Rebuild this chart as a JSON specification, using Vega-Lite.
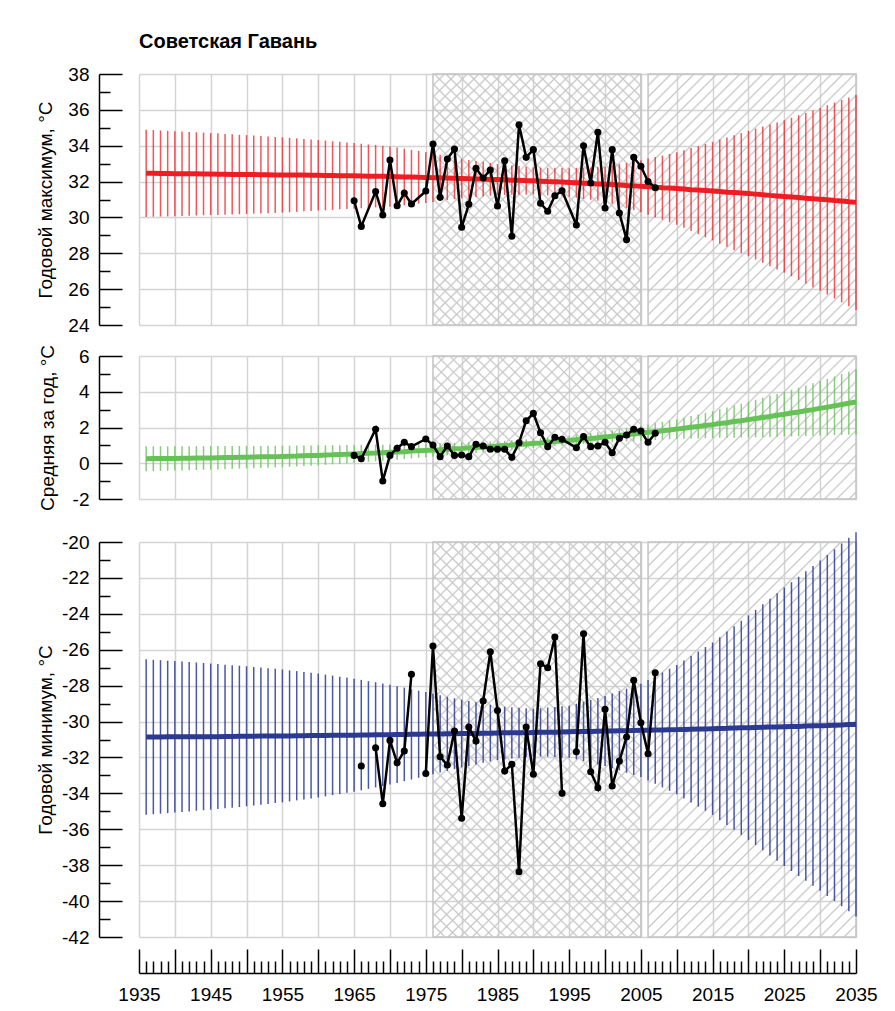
{
"$schema": "https://vega.github.io/schema/vega-lite/v6.json",
"background": "white",
"padding": {"left": 36, "top": 32, "right": 5, "bottom": 5},
"config": {
 "view": {"stroke": null},
 "font": "Liberation Sans",
 "axis": {"labelFont": "Liberation Sans", "labelFontSize": 19, "labelColor": "#000", "titleFont": "Liberation Sans", "titleFontSize": 19, "titleFontWeight": "normal", "titleColor": "#000", "gridColor": "#d4d4d4", "gridWidth": 1.5, "domainColor": "#000", "domainWidth": 1.5, "tickColor": "#000", "tickWidth": 1.5, "labelFlush": false, "labelOverlap": false, "labelBound": false, "tickCount": 500}
},
"datasets": {
"periods": [{"s": 1976, "e": 2005, "kind": "obs"}, {"s": 2006, "e": 2035, "kind": "proj"}],
"obs": [
{"yr":1965,"tmax":30.93,"tmean":0.44,"tmin":null},
{"yr":1966,"tmax":29.5,"tmean":0.25,"tmin":-32.48},
{"yr":1967,"tmax":null,"tmean":null,"tmin":null},
{"yr":1968,"tmax":31.44,"tmean":1.9,"tmin":-31.46},
{"yr":1969,"tmax":30.14,"tmean":-0.99,"tmin":-34.58},
{"yr":1970,"tmax":33.2,"tmean":0.44,"tmin":-31.05},
{"yr":1971,"tmax":30.65,"tmean":0.84,"tmin":-32.3},
{"yr":1972,"tmax":31.36,"tmean":1.17,"tmin":-31.64},
{"yr":1973,"tmax":30.75,"tmean":0.93,"tmin":-27.37},
{"yr":1974,"tmax":null,"tmean":null,"tmin":null},
{"yr":1975,"tmax":31.47,"tmean":1.36,"tmin":-32.89},
{"yr":1976,"tmax":34.1,"tmean":1.02,"tmin":-25.79},
{"yr":1977,"tmax":31.12,"tmean":0.37,"tmin":-31.96},
{"yr":1978,"tmax":33.26,"tmean":0.97,"tmin":-32.42},
{"yr":1979,"tmax":33.82,"tmean":0.44,"tmin":-30.53},
{"yr":1980,"tmax":29.45,"tmean":0.46,"tmin":-35.39},
{"yr":1981,"tmax":30.73,"tmean":0.37,"tmin":-30.31},
{"yr":1982,"tmax":32.74,"tmean":1.06,"tmin":-31.09},
{"yr":1983,"tmax":32.2,"tmean":0.97,"tmin":-28.86},
{"yr":1984,"tmax":32.65,"tmean":0.78,"tmin":-26.11},
{"yr":1985,"tmax":30.64,"tmean":0.78,"tmin":-29.38},
{"yr":1986,"tmax":33.16,"tmean":0.78,"tmin":-32.76},
{"yr":1987,"tmax":28.95,"tmean":0.33,"tmin":-32.38},
{"yr":1988,"tmax":35.17,"tmean":1.15,"tmin":-38.37},
{"yr":1989,"tmax":33.35,"tmean":2.38,"tmin":-30.31},
{"yr":1990,"tmax":33.78,"tmean":2.79,"tmin":-32.94},
{"yr":1991,"tmax":30.79,"tmean":1.71,"tmin":-26.78},
{"yr":1992,"tmax":30.34,"tmean":0.93,"tmin":-27.0},
{"yr":1993,"tmax":31.21,"tmean":1.45,"tmin":-25.29},
{"yr":1994,"tmax":31.49,"tmean":1.34,"tmin":-34.0},
{"yr":1995,"tmax":null,"tmean":null,"tmin":null},
{"yr":1996,"tmax":29.58,"tmean":0.87,"tmin":-31.68},
{"yr":1997,"tmax":34.0,"tmean":1.49,"tmin":-25.11},
{"yr":1998,"tmax":31.92,"tmean":0.93,"tmin":-32.8},
{"yr":1999,"tmax":34.75,"tmean":0.97,"tmin":-33.69},
{"yr":2000,"tmax":30.53,"tmean":1.17,"tmin":-29.32},
{"yr":2001,"tmax":33.78,"tmean":0.59,"tmin":-33.59},
{"yr":2002,"tmax":30.25,"tmean":1.40,"tmin":-32.2},
{"yr":2003,"tmax":28.76,"tmean":1.58,"tmin":-30.86},
{"yr":2004,"tmax":33.35,"tmean":1.90,"tmin":-27.7},
{"yr":2005,"tmax":32.85,"tmean":1.80,"tmin":-30.07},
{"yr":2006,"tmax":32.0,"tmean":1.17,"tmin":-31.79},
{"yr":2007,"tmax":31.66,"tmean":1.68,"tmin":-27.28}
],
"trend": [
{"yr":1936,"c1":32.46,"l1":30.03,"h1":34.89,"c2":0.25,"l2":-0.45,"h2":0.95,"c3":-30.86,"l3":-35.19,"h3":-26.53},
{"yr":1937,"c1":32.46,"l1":30.04,"h1":34.87,"c2":0.26,"l2":-0.44,"h2":0.95,"c3":-30.86,"l3":-35.16,"h3":-26.56},
{"yr":1938,"c1":32.45,"l1":30.05,"h1":34.85,"c2":0.26,"l2":-0.43,"h2":0.95,"c3":-30.86,"l3":-35.13,"h3":-26.58},
{"yr":1939,"c1":32.45,"l1":30.06,"h1":34.83,"c2":0.27,"l2":-0.42,"h2":0.95,"c3":-30.85,"l3":-35.10,"h3":-26.61},
{"yr":1940,"c1":32.44,"l1":30.07,"h1":34.81,"c2":0.27,"l2":-0.41,"h2":0.95,"c3":-30.85,"l3":-35.07,"h3":-26.63},
{"yr":1941,"c1":32.44,"l1":30.08,"h1":34.79,"c2":0.28,"l2":-0.40,"h2":0.95,"c3":-30.85,"l3":-35.04,"h3":-26.66},
{"yr":1942,"c1":32.43,"l1":30.09,"h1":34.77,"c2":0.28,"l2":-0.39,"h2":0.95,"c3":-30.85,"l3":-35.01,"h3":-26.69},
{"yr":1943,"c1":32.43,"l1":30.11,"h1":34.75,"c2":0.29,"l2":-0.38,"h2":0.96,"c3":-30.84,"l3":-34.97,"h3":-26.71},
{"yr":1944,"c1":32.42,"l1":30.12,"h1":34.73,"c2":0.29,"l2":-0.37,"h2":0.96,"c3":-30.84,"l3":-34.94,"h3":-26.74},
{"yr":1945,"c1":32.42,"l1":30.13,"h1":34.71,"c2":0.30,"l2":-0.36,"h2":0.96,"c3":-30.84,"l3":-34.91,"h3":-26.77},
{"yr":1946,"c1":32.41,"l1":30.14,"h1":34.69,"c2":0.31,"l2":-0.35,"h2":0.96,"c3":-30.84,"l3":-34.87,"h3":-26.80},
{"yr":1947,"c1":32.41,"l1":30.15,"h1":34.66,"c2":0.32,"l2":-0.33,"h2":0.96,"c3":-30.83,"l3":-34.83,"h3":-26.83},
{"yr":1948,"c1":32.40,"l1":30.17,"h1":34.64,"c2":0.32,"l2":-0.32,"h2":0.97,"c3":-30.83,"l3":-34.80,"h3":-26.86},
{"yr":1949,"c1":32.40,"l1":30.18,"h1":34.61,"c2":0.33,"l2":-0.30,"h2":0.97,"c3":-30.82,"l3":-34.76,"h3":-26.89},
{"yr":1950,"c1":32.39,"l1":30.19,"h1":34.59,"c2":0.34,"l2":-0.29,"h2":0.97,"c3":-30.82,"l3":-34.72,"h3":-26.92},
{"yr":1951,"c1":32.39,"l1":30.21,"h1":34.57,"c2":0.35,"l2":-0.28,"h2":0.97,"c3":-30.82,"l3":-34.68,"h3":-26.96},
{"yr":1952,"c1":32.38,"l1":30.22,"h1":34.54,"c2":0.36,"l2":-0.26,"h2":0.97,"c3":-30.81,"l3":-34.63,"h3":-26.99},
{"yr":1953,"c1":32.38,"l1":30.24,"h1":34.52,"c2":0.36,"l2":-0.25,"h2":0.98,"c3":-30.81,"l3":-34.59,"h3":-27.03},
{"yr":1954,"c1":32.37,"l1":30.25,"h1":34.49,"c2":0.37,"l2":-0.23,"h2":0.98,"c3":-30.80,"l3":-34.54,"h3":-27.06},
{"yr":1955,"c1":32.37,"l1":30.27,"h1":34.47,"c2":0.38,"l2":-0.22,"h2":0.98,"c3":-30.80,"l3":-34.50,"h3":-27.10},
{"yr":1956,"c1":32.37,"l1":30.29,"h1":34.44,"c2":0.39,"l2":-0.20,"h2":0.98,"c3":-30.80,"l3":-34.45,"h3":-27.15},
{"yr":1957,"c1":32.36,"l1":30.31,"h1":34.41,"c2":0.40,"l2":-0.18,"h2":0.99,"c3":-30.79,"l3":-34.39,"h3":-27.19},
{"yr":1958,"c1":32.36,"l1":30.34,"h1":34.38,"c2":0.42,"l2":-0.16,"h2":0.99,"c3":-30.79,"l3":-34.34,"h3":-27.24},
{"yr":1959,"c1":32.35,"l1":30.36,"h1":34.35,"c2":0.43,"l2":-0.14,"h2":1.00,"c3":-30.78,"l3":-34.28,"h3":-27.28},
{"yr":1960,"c1":32.35,"l1":30.38,"h1":34.32,"c2":0.44,"l2":-0.12,"h2":1.00,"c3":-30.78,"l3":-34.23,"h3":-27.33},
{"yr":1961,"c1":32.34,"l1":30.40,"h1":34.29,"c2":0.46,"l2":-0.09,"h2":1.00,"c3":-30.78,"l3":-34.17,"h3":-27.39},
{"yr":1962,"c1":32.34,"l1":30.42,"h1":34.25,"c2":0.47,"l2":-0.06,"h2":1.01,"c3":-30.77,"l3":-34.10,"h3":-27.44},
{"yr":1963,"c1":32.33,"l1":30.45,"h1":34.22,"c2":0.49,"l2":-0.04,"h2":1.01,"c3":-30.77,"l3":-34.04,"h3":-27.50},
{"yr":1964,"c1":32.33,"l1":30.47,"h1":34.18,"c2":0.50,"l2":-0.01,"h2":1.02,"c3":-30.76,"l3":-33.97,"h3":-27.55},
{"yr":1965,"c1":32.32,"l1":30.49,"h1":34.15,"c2":0.52,"l2":0.02,"h2":1.02,"c3":-30.76,"l3":-33.91,"h3":-27.61},
{"yr":1966,"c1":32.31,"l1":30.51,"h1":34.11,"c2":0.54,"l2":0.05,"h2":1.03,"c3":-30.75,"l3":-33.83,"h3":-27.68},
{"yr":1967,"c1":32.30,"l1":30.53,"h1":34.07,"c2":0.56,"l2":0.08,"h2":1.03,"c3":-30.75,"l3":-33.75,"h3":-27.75},
{"yr":1968,"c1":32.30,"l1":30.56,"h1":34.04,"c2":0.57,"l2":0.11,"h2":1.04,"c3":-30.74,"l3":-33.67,"h3":-27.81},
{"yr":1969,"c1":32.29,"l1":30.58,"h1":34.00,"c2":0.59,"l2":0.14,"h2":1.04,"c3":-30.74,"l3":-33.59,"h3":-27.88},
{"yr":1970,"c1":32.28,"l1":30.60,"h1":33.96,"c2":0.61,"l2":0.17,"h2":1.05,"c3":-30.73,"l3":-33.51,"h3":-27.95},
{"yr":1971,"c1":32.27,"l1":30.64,"h1":33.90,"c2":0.63,"l2":0.20,"h2":1.06,"c3":-30.72,"l3":-33.42,"h3":-28.03},
{"yr":1972,"c1":32.26,"l1":30.68,"h1":33.84,"c2":0.65,"l2":0.24,"h2":1.07,"c3":-30.72,"l3":-33.32,"h3":-28.11},
{"yr":1973,"c1":32.25,"l1":30.73,"h1":33.77,"c2":0.68,"l2":0.27,"h2":1.08,"c3":-30.71,"l3":-33.23,"h3":-28.20},
{"yr":1974,"c1":32.24,"l1":30.77,"h1":33.71,"c2":0.70,"l2":0.31,"h2":1.09,"c3":-30.71,"l3":-33.13,"h3":-28.28},
{"yr":1975,"c1":32.23,"l1":30.81,"h1":33.65,"c2":0.72,"l2":0.34,"h2":1.10,"c3":-30.70,"l3":-33.04,"h3":-28.36},
{"yr":1976,"c1":32.22,"l1":30.86,"h1":33.57,"c2":0.74,"l2":0.37,"h2":1.11,"c3":-30.69,"l3":-32.94,"h3":-28.45},
{"yr":1977,"c1":32.21,"l1":30.91,"h1":33.50,"c2":0.76,"l2":0.40,"h2":1.12,"c3":-30.69,"l3":-32.84,"h3":-28.53},
{"yr":1978,"c1":32.20,"l1":30.97,"h1":33.42,"c2":0.79,"l2":0.44,"h2":1.14,"c3":-30.68,"l3":-32.75,"h3":-28.62},
{"yr":1979,"c1":32.18,"l1":31.02,"h1":33.35,"c2":0.81,"l2":0.47,"h2":1.15,"c3":-30.68,"l3":-32.65,"h3":-28.70},
{"yr":1980,"c1":32.17,"l1":31.07,"h1":33.27,"c2":0.83,"l2":0.50,"h2":1.16,"c3":-30.67,"l3":-32.55,"h3":-28.79},
{"yr":1981,"c1":32.16,"l1":31.10,"h1":33.21,"c2":0.86,"l2":0.54,"h2":1.18,"c3":-30.66,"l3":-32.47,"h3":-28.86},
{"yr":1982,"c1":32.15,"l1":31.14,"h1":33.15,"c2":0.88,"l2":0.57,"h2":1.19,"c3":-30.66,"l3":-32.39,"h3":-28.93},
{"yr":1983,"c1":32.14,"l1":31.17,"h1":33.10,"c2":0.91,"l2":0.61,"h2":1.21,"c3":-30.65,"l3":-32.30,"h3":-29.00},
{"yr":1984,"c1":32.12,"l1":31.21,"h1":33.04,"c2":0.93,"l2":0.64,"h2":1.22,"c3":-30.65,"l3":-32.22,"h3":-29.07},
{"yr":1985,"c1":32.11,"l1":31.24,"h1":32.98,"c2":0.96,"l2":0.68,"h2":1.24,"c3":-30.64,"l3":-32.14,"h3":-29.14},
{"yr":1986,"c1":32.10,"l1":31.25,"h1":32.94,"c2":0.99,"l2":0.72,"h2":1.26,"c3":-30.63,"l3":-32.10,"h3":-29.17},
{"yr":1987,"c1":32.08,"l1":31.26,"h1":32.90,"c2":1.02,"l2":0.75,"h2":1.29,"c3":-30.63,"l3":-32.06,"h3":-29.20},
{"yr":1988,"c1":32.07,"l1":31.27,"h1":32.87,"c2":1.05,"l2":0.79,"h2":1.31,"c3":-30.62,"l3":-32.01,"h3":-29.23},
{"yr":1989,"c1":32.05,"l1":31.28,"h1":32.83,"c2":1.08,"l2":0.82,"h2":1.34,"c3":-30.62,"l3":-31.97,"h3":-29.26},
{"yr":1990,"c1":32.04,"l1":31.29,"h1":32.79,"c2":1.11,"l2":0.86,"h2":1.36,"c3":-30.61,"l3":-31.93,"h3":-29.29},
{"yr":1991,"c1":32.02,"l1":31.26,"h1":32.78,"c2":1.14,"l2":0.89,"h2":1.40,"c3":-30.60,"l3":-31.95,"h3":-29.26},
{"yr":1992,"c1":32.00,"l1":31.23,"h1":32.77,"c2":1.18,"l2":0.92,"h2":1.43,"c3":-30.59,"l3":-31.96,"h3":-29.22},
{"yr":1993,"c1":31.99,"l1":31.21,"h1":32.77,"c2":1.21,"l2":0.96,"h2":1.47,"c3":-30.59,"l3":-31.98,"h3":-29.19},
{"yr":1994,"c1":31.97,"l1":31.18,"h1":32.76,"c2":1.25,"l2":0.99,"h2":1.50,"c3":-30.58,"l3":-32.00,"h3":-29.15},
{"yr":1995,"c1":31.95,"l1":31.15,"h1":32.75,"c2":1.28,"l2":1.02,"h2":1.54,"c3":-30.57,"l3":-32.02,"h3":-29.12},
{"yr":1996,"c1":31.93,"l1":31.10,"h1":32.76,"c2":1.32,"l2":1.05,"h2":1.59,"c3":-30.56,"l3":-32.11,"h3":-29.01},
{"yr":1997,"c1":31.91,"l1":31.04,"h1":32.78,"c2":1.36,"l2":1.07,"h2":1.64,"c3":-30.55,"l3":-32.20,"h3":-28.90},
{"yr":1998,"c1":31.89,"l1":30.99,"h1":32.79,"c2":1.39,"l2":1.10,"h2":1.69,"c3":-30.55,"l3":-32.30,"h3":-28.80},
{"yr":1999,"c1":31.87,"l1":30.93,"h1":32.81,"c2":1.43,"l2":1.12,"h2":1.74,"c3":-30.54,"l3":-32.39,"h3":-28.69},
{"yr":2000,"c1":31.85,"l1":30.88,"h1":32.82,"c2":1.47,"l2":1.15,"h2":1.79,"c3":-30.53,"l3":-32.48,"h3":-28.58},
{"yr":2001,"c1":31.83,"l1":30.76,"h1":32.89,"c2":1.51,"l2":1.17,"h2":1.85,"c3":-30.52,"l3":-32.60,"h3":-28.44},
{"yr":2002,"c1":31.81,"l1":30.64,"h1":32.97,"c2":1.55,"l2":1.19,"h2":1.91,"c3":-30.51,"l3":-32.72,"h3":-28.30},
{"yr":2003,"c1":31.78,"l1":30.53,"h1":33.04,"c2":1.60,"l2":1.22,"h2":1.98,"c3":-30.51,"l3":-32.85,"h3":-28.17},
{"yr":2004,"c1":31.76,"l1":30.41,"h1":33.12,"c2":1.64,"l2":1.24,"h2":2.04,"c3":-30.50,"l3":-32.97,"h3":-28.03},
{"yr":2005,"c1":31.74,"l1":30.29,"h1":33.19,"c2":1.68,"l2":1.26,"h2":2.10,"c3":-30.49,"l3":-33.09,"h3":-27.89},
{"yr":2006,"c1":31.71,"l1":30.15,"h1":33.28,"c2":1.73,"l2":1.28,"h2":2.17,"c3":-30.48,"l3":-33.28,"h3":-27.68},
{"yr":2007,"c1":31.69,"l1":30.01,"h1":33.37,"c2":1.77,"l2":1.30,"h2":2.24,"c3":-30.47,"l3":-33.47,"h3":-27.47},
{"yr":2008,"c1":31.66,"l1":29.87,"h1":33.45,"c2":1.82,"l2":1.32,"h2":2.32,"c3":-30.47,"l3":-33.67,"h3":-27.27},
{"yr":2009,"c1":31.64,"l1":29.73,"h1":33.54,"c2":1.86,"l2":1.34,"h2":2.39,"c3":-30.46,"l3":-33.86,"h3":-27.06},
{"yr":2010,"c1":31.61,"l1":29.59,"h1":33.63,"c2":1.91,"l2":1.36,"h2":2.46,"c3":-30.45,"l3":-34.05,"h3":-26.85},
{"yr":2011,"c1":31.58,"l1":29.42,"h1":33.75,"c2":1.96,"l2":1.37,"h2":2.55,"c3":-30.44,"l3":-34.28,"h3":-26.60},
{"yr":2012,"c1":31.55,"l1":29.24,"h1":33.87,"c2":2.01,"l2":1.38,"h2":2.64,"c3":-30.43,"l3":-34.51,"h3":-26.35},
{"yr":2013,"c1":31.53,"l1":29.07,"h1":33.98,"c2":2.06,"l2":1.39,"h2":2.73,"c3":-30.42,"l3":-34.74,"h3":-26.10},
{"yr":2014,"c1":31.50,"l1":28.89,"h1":34.10,"c2":2.11,"l2":1.40,"h2":2.82,"c3":-30.41,"l3":-34.97,"h3":-25.85},
{"yr":2015,"c1":31.47,"l1":28.72,"h1":34.22,"c2":2.16,"l2":1.41,"h2":2.91,"c3":-30.40,"l3":-35.20,"h3":-25.60},
{"yr":2016,"c1":31.44,"l1":28.54,"h1":34.34,"c2":2.22,"l2":1.42,"h2":3.02,"c3":-30.39,"l3":-35.48,"h3":-25.30},
{"yr":2017,"c1":31.41,"l1":28.36,"h1":34.46,"c2":2.27,"l2":1.42,"h2":3.12,"c3":-30.38,"l3":-35.76,"h3":-24.99},
{"yr":2018,"c1":31.39,"l1":28.19,"h1":34.59,"c2":2.33,"l2":1.43,"h2":3.23,"c3":-30.36,"l3":-36.03,"h3":-24.69},
{"yr":2019,"c1":31.36,"l1":28.01,"h1":34.71,"c2":2.38,"l2":1.43,"h2":3.33,"c3":-30.35,"l3":-36.31,"h3":-24.39},
{"yr":2020,"c1":31.33,"l1":27.83,"h1":34.83,"c2":2.44,"l2":1.44,"h2":3.44,"c3":-30.34,"l3":-36.59,"h3":-24.09},
{"yr":2021,"c1":31.30,"l1":27.65,"h1":34.95,"c2":2.50,"l2":1.45,"h2":3.55,"c3":-30.33,"l3":-36.88,"h3":-23.78},
{"yr":2022,"c1":31.27,"l1":27.47,"h1":35.07,"c2":2.56,"l2":1.46,"h2":3.66,"c3":-30.32,"l3":-37.17,"h3":-23.47},
{"yr":2023,"c1":31.23,"l1":27.28,"h1":35.18,"c2":2.62,"l2":1.47,"h2":3.77,"c3":-30.31,"l3":-37.46,"h3":-23.16},
{"yr":2024,"c1":31.20,"l1":27.10,"h1":35.30,"c2":2.68,"l2":1.48,"h2":3.88,"c3":-30.30,"l3":-37.75,"h3":-22.85},
{"yr":2025,"c1":31.17,"l1":26.92,"h1":35.42,"c2":2.74,"l2":1.49,"h2":3.99,"c3":-30.29,"l3":-38.04,"h3":-22.54},
{"yr":2026,"c1":31.14,"l1":26.72,"h1":35.56,"c2":2.81,"l2":1.50,"h2":4.11,"c3":-30.28,"l3":-38.32,"h3":-22.24},
{"yr":2027,"c1":31.11,"l1":26.52,"h1":35.70,"c2":2.87,"l2":1.51,"h2":4.23,"c3":-30.27,"l3":-38.60,"h3":-21.94},
{"yr":2028,"c1":31.07,"l1":26.31,"h1":35.83,"c2":2.94,"l2":1.53,"h2":4.35,"c3":-30.25,"l3":-38.87,"h3":-21.63},
{"yr":2029,"c1":31.04,"l1":26.11,"h1":35.97,"c2":3.00,"l2":1.54,"h2":4.47,"c3":-30.24,"l3":-39.15,"h3":-21.33},
{"yr":2030,"c1":31.01,"l1":25.91,"h1":36.11,"c2":3.07,"l2":1.55,"h2":4.59,"c3":-30.23,"l3":-39.43,"h3":-21.03},
{"yr":2031,"c1":30.98,"l1":25.70,"h1":36.26,"c2":3.14,"l2":1.56,"h2":4.72,"c3":-30.22,"l3":-39.72,"h3":-20.72},
{"yr":2032,"c1":30.94,"l1":25.48,"h1":36.40,"c2":3.21,"l2":1.57,"h2":4.85,"c3":-30.20,"l3":-40.00,"h3":-20.40},
{"yr":2033,"c1":30.91,"l1":25.27,"h1":36.55,"c2":3.29,"l2":1.59,"h2":4.99,"c3":-30.19,"l3":-40.29,"h3":-20.09},
{"yr":2034,"c1":30.87,"l1":25.05,"h1":36.69,"c2":3.36,"l2":1.60,"h2":5.12,"c3":-30.17,"l3":-40.57,"h3":-19.77},
{"yr":2035,"c1":30.84,"l1":24.84,"h1":36.84,"c2":3.43,"l2":1.61,"h2":5.25,"c3":-30.16,"l3":-40.86,"h3":-19.46}
]
},
"spacing": 20,
"vconcat": [
{
"spacing": 9,
"vconcat": [
{
"width": 717, "height": 251,
"title": {"text": "Советская Гавань", "anchor": "start", "frame": "group", "font": "Liberation Sans", "fontSize": 20, "fontWeight": "bold", "color": "#000", "offset": 13},
"layer": [
{"data": {"name": "periods"}, "mark": {"type": "rect", "stroke": "#c4c4c4", "strokeWidth": 1.5,
 "fill": {"gradient": "linear", "x1": 0, "y1": 0, "x2": 0.8984, "y2": 1.0842, "stops": [
{"offset":0,"color":"#c8c8c8"},{"offset":0.004,"color":"rgba(200,200,200,0)"},
{"offset":0.021,"color":"rgba(200,200,200,0)"},{"offset":0.025,"color":"#c8c8c8"},{"offset":0.029,"color":"rgba(200,200,200,0)"},
{"offset":0.046,"color":"rgba(200,200,200,0)"},{"offset":0.05,"color":"#c8c8c8"},{"offset":0.054,"color":"rgba(200,200,200,0)"},
{"offset":0.071,"color":"rgba(200,200,200,0)"},{"offset":0.075,"color":"#c8c8c8"},{"offset":0.079,"color":"rgba(200,200,200,0)"},
{"offset":0.096,"color":"rgba(200,200,200,0)"},{"offset":0.1,"color":"#c8c8c8"},{"offset":0.104,"color":"rgba(200,200,200,0)"},
{"offset":0.121,"color":"rgba(200,200,200,0)"},{"offset":0.125,"color":"#c8c8c8"},{"offset":0.129,"color":"rgba(200,200,200,0)"},
{"offset":0.146,"color":"rgba(200,200,200,0)"},{"offset":0.15,"color":"#c8c8c8"},{"offset":0.154,"color":"rgba(200,200,200,0)"},
{"offset":0.171,"color":"rgba(200,200,200,0)"},{"offset":0.175,"color":"#c8c8c8"},{"offset":0.179,"color":"rgba(200,200,200,0)"},
{"offset":0.196,"color":"rgba(200,200,200,0)"},{"offset":0.2,"color":"#c8c8c8"},{"offset":0.204,"color":"rgba(200,200,200,0)"},
{"offset":0.221,"color":"rgba(200,200,200,0)"},{"offset":0.225,"color":"#c8c8c8"},{"offset":0.229,"color":"rgba(200,200,200,0)"},
{"offset":0.246,"color":"rgba(200,200,200,0)"},{"offset":0.25,"color":"#c8c8c8"},{"offset":0.254,"color":"rgba(200,200,200,0)"},
{"offset":0.271,"color":"rgba(200,200,200,0)"},{"offset":0.275,"color":"#c8c8c8"},{"offset":0.279,"color":"rgba(200,200,200,0)"},
{"offset":0.296,"color":"rgba(200,200,200,0)"},{"offset":0.3,"color":"#c8c8c8"},{"offset":0.304,"color":"rgba(200,200,200,0)"},
{"offset":0.321,"color":"rgba(200,200,200,0)"},{"offset":0.325,"color":"#c8c8c8"},{"offset":0.329,"color":"rgba(200,200,200,0)"},
{"offset":0.346,"color":"rgba(200,200,200,0)"},{"offset":0.35,"color":"#c8c8c8"},{"offset":0.354,"color":"rgba(200,200,200,0)"},
{"offset":0.371,"color":"rgba(200,200,200,0)"},{"offset":0.375,"color":"#c8c8c8"},{"offset":0.379,"color":"rgba(200,200,200,0)"},
{"offset":0.396,"color":"rgba(200,200,200,0)"},{"offset":0.4,"color":"#c8c8c8"},{"offset":0.404,"color":"rgba(200,200,200,0)"},
{"offset":0.421,"color":"rgba(200,200,200,0)"},{"offset":0.425,"color":"#c8c8c8"},{"offset":0.429,"color":"rgba(200,200,200,0)"},
{"offset":0.446,"color":"rgba(200,200,200,0)"},{"offset":0.45,"color":"#c8c8c8"},{"offset":0.454,"color":"rgba(200,200,200,0)"},
{"offset":0.471,"color":"rgba(200,200,200,0)"},{"offset":0.475,"color":"#c8c8c8"},{"offset":0.479,"color":"rgba(200,200,200,0)"},
{"offset":0.496,"color":"rgba(200,200,200,0)"},{"offset":0.5,"color":"#c8c8c8"},{"offset":0.504,"color":"rgba(200,200,200,0)"},
{"offset":0.521,"color":"rgba(200,200,200,0)"},{"offset":0.525,"color":"#c8c8c8"},{"offset":0.529,"color":"rgba(200,200,200,0)"},
{"offset":0.546,"color":"rgba(200,200,200,0)"},{"offset":0.55,"color":"#c8c8c8"},{"offset":0.554,"color":"rgba(200,200,200,0)"},
{"offset":0.571,"color":"rgba(200,200,200,0)"},{"offset":0.575,"color":"#c8c8c8"},{"offset":0.579,"color":"rgba(200,200,200,0)"},
{"offset":0.596,"color":"rgba(200,200,200,0)"},{"offset":0.6,"color":"#c8c8c8"},{"offset":0.604,"color":"rgba(200,200,200,0)"},
{"offset":0.621,"color":"rgba(200,200,200,0)"},{"offset":0.625,"color":"#c8c8c8"},{"offset":0.629,"color":"rgba(200,200,200,0)"},
{"offset":0.646,"color":"rgba(200,200,200,0)"},{"offset":0.65,"color":"#c8c8c8"},{"offset":0.654,"color":"rgba(200,200,200,0)"},
{"offset":0.671,"color":"rgba(200,200,200,0)"},{"offset":0.675,"color":"#c8c8c8"},{"offset":0.679,"color":"rgba(200,200,200,0)"},
{"offset":0.696,"color":"rgba(200,200,200,0)"},{"offset":0.7,"color":"#c8c8c8"},{"offset":0.704,"color":"rgba(200,200,200,0)"},
{"offset":0.721,"color":"rgba(200,200,200,0)"},{"offset":0.725,"color":"#c8c8c8"},{"offset":0.729,"color":"rgba(200,200,200,0)"},
{"offset":0.746,"color":"rgba(200,200,200,0)"},{"offset":0.75,"color":"#c8c8c8"},{"offset":0.754,"color":"rgba(200,200,200,0)"},
{"offset":0.771,"color":"rgba(200,200,200,0)"},{"offset":0.775,"color":"#c8c8c8"},{"offset":0.779,"color":"rgba(200,200,200,0)"},
{"offset":0.796,"color":"rgba(200,200,200,0)"},{"offset":0.8,"color":"#c8c8c8"},{"offset":0.804,"color":"rgba(200,200,200,0)"},
{"offset":0.821,"color":"rgba(200,200,200,0)"},{"offset":0.825,"color":"#c8c8c8"},{"offset":0.829,"color":"rgba(200,200,200,0)"},
{"offset":0.846,"color":"rgba(200,200,200,0)"},{"offset":0.85,"color":"#c8c8c8"},{"offset":0.854,"color":"rgba(200,200,200,0)"},
{"offset":0.871,"color":"rgba(200,200,200,0)"},{"offset":0.875,"color":"#c8c8c8"},{"offset":0.879,"color":"rgba(200,200,200,0)"},
{"offset":0.896,"color":"rgba(200,200,200,0)"},{"offset":0.9,"color":"#c8c8c8"},{"offset":0.904,"color":"rgba(200,200,200,0)"},
{"offset":0.921,"color":"rgba(200,200,200,0)"},{"offset":0.925,"color":"#c8c8c8"},{"offset":0.929,"color":"rgba(200,200,200,0)"},
{"offset":0.946,"color":"rgba(200,200,200,0)"},{"offset":0.95,"color":"#c8c8c8"},{"offset":0.954,"color":"rgba(200,200,200,0)"},
{"offset":0.971,"color":"rgba(200,200,200,0)"},{"offset":0.975,"color":"#c8c8c8"},{"offset":0.979,"color":"rgba(200,200,200,0)"},
{"offset":0.996,"color":"rgba(200,200,200,0)"},{"offset":1,"color":"#c8c8c8"}]}},
 "encoding": {
  "x": {"field": "s", "type": "quantitative", "scale": {"domain": [1935, 2035], "nice": false, "zero": false}, "title": null,
        "axis": {"values": [1935,1940,1945,1950,1955,1960,1965,1970,1975,1980,1985,1990,1995,2000,2005,2010,2015,2020,2025,2030,2035], "grid": true, "ticks": false, "labels": false, "domain": false, "title": null}},
  "x2": {"field": "e"},
  "y": {"datum": 38, "type": "quantitative", "scale": {"domain": [24, 38], "nice": false, "zero": false},
        "axis": {"orient": "left", "offset": 40, "values": [24,25,26,27,28,29,30,31,32,33,34,35,36,37,38],
          "tickSize": {"condition": {"test": "datum.value % 2 === 0", "value": -23}, "value": -11},
          "labelExpr": "datum.value % 2 === 0 ? '' + datum.value : ''", "labelPadding": 33,
          "grid": true, "gridOpacity": {"condition": {"test": "datum.value % 2 === 0", "value": 1}, "value": 0},
          "title": "Годовой максимум, °C", "titlePadding": 12}},
  "y2": {"datum": 24}
 }},
{"data": {"name": "periods"}, "transform": [{"filter": "datum.kind === 'obs'"}], "mark": {"type": "rect", "strokeWidth": 0,
 "fill": {"gradient": "linear", "x1": 0, "y1": 1, "x2": 0.8984, "y2": -0.0842, "stops": [
{"offset":0,"color":"#c8c8c8"},{"offset":0.004,"color":"rgba(200,200,200,0)"},
{"offset":0.021,"color":"rgba(200,200,200,0)"},{"offset":0.025,"color":"#c8c8c8"},{"offset":0.029,"color":"rgba(200,200,200,0)"},
{"offset":0.046,"color":"rgba(200,200,200,0)"},{"offset":0.05,"color":"#c8c8c8"},{"offset":0.054,"color":"rgba(200,200,200,0)"},
{"offset":0.071,"color":"rgba(200,200,200,0)"},{"offset":0.075,"color":"#c8c8c8"},{"offset":0.079,"color":"rgba(200,200,200,0)"},
{"offset":0.096,"color":"rgba(200,200,200,0)"},{"offset":0.1,"color":"#c8c8c8"},{"offset":0.104,"color":"rgba(200,200,200,0)"},
{"offset":0.121,"color":"rgba(200,200,200,0)"},{"offset":0.125,"color":"#c8c8c8"},{"offset":0.129,"color":"rgba(200,200,200,0)"},
{"offset":0.146,"color":"rgba(200,200,200,0)"},{"offset":0.15,"color":"#c8c8c8"},{"offset":0.154,"color":"rgba(200,200,200,0)"},
{"offset":0.171,"color":"rgba(200,200,200,0)"},{"offset":0.175,"color":"#c8c8c8"},{"offset":0.179,"color":"rgba(200,200,200,0)"},
{"offset":0.196,"color":"rgba(200,200,200,0)"},{"offset":0.2,"color":"#c8c8c8"},{"offset":0.204,"color":"rgba(200,200,200,0)"},
{"offset":0.221,"color":"rgba(200,200,200,0)"},{"offset":0.225,"color":"#c8c8c8"},{"offset":0.229,"color":"rgba(200,200,200,0)"},
{"offset":0.246,"color":"rgba(200,200,200,0)"},{"offset":0.25,"color":"#c8c8c8"},{"offset":0.254,"color":"rgba(200,200,200,0)"},
{"offset":0.271,"color":"rgba(200,200,200,0)"},{"offset":0.275,"color":"#c8c8c8"},{"offset":0.279,"color":"rgba(200,200,200,0)"},
{"offset":0.296,"color":"rgba(200,200,200,0)"},{"offset":0.3,"color":"#c8c8c8"},{"offset":0.304,"color":"rgba(200,200,200,0)"},
{"offset":0.321,"color":"rgba(200,200,200,0)"},{"offset":0.325,"color":"#c8c8c8"},{"offset":0.329,"color":"rgba(200,200,200,0)"},
{"offset":0.346,"color":"rgba(200,200,200,0)"},{"offset":0.35,"color":"#c8c8c8"},{"offset":0.354,"color":"rgba(200,200,200,0)"},
{"offset":0.371,"color":"rgba(200,200,200,0)"},{"offset":0.375,"color":"#c8c8c8"},{"offset":0.379,"color":"rgba(200,200,200,0)"},
{"offset":0.396,"color":"rgba(200,200,200,0)"},{"offset":0.4,"color":"#c8c8c8"},{"offset":0.404,"color":"rgba(200,200,200,0)"},
{"offset":0.421,"color":"rgba(200,200,200,0)"},{"offset":0.425,"color":"#c8c8c8"},{"offset":0.429,"color":"rgba(200,200,200,0)"},
{"offset":0.446,"color":"rgba(200,200,200,0)"},{"offset":0.45,"color":"#c8c8c8"},{"offset":0.454,"color":"rgba(200,200,200,0)"},
{"offset":0.471,"color":"rgba(200,200,200,0)"},{"offset":0.475,"color":"#c8c8c8"},{"offset":0.479,"color":"rgba(200,200,200,0)"},
{"offset":0.496,"color":"rgba(200,200,200,0)"},{"offset":0.5,"color":"#c8c8c8"},{"offset":0.504,"color":"rgba(200,200,200,0)"},
{"offset":0.521,"color":"rgba(200,200,200,0)"},{"offset":0.525,"color":"#c8c8c8"},{"offset":0.529,"color":"rgba(200,200,200,0)"},
{"offset":0.546,"color":"rgba(200,200,200,0)"},{"offset":0.55,"color":"#c8c8c8"},{"offset":0.554,"color":"rgba(200,200,200,0)"},
{"offset":0.571,"color":"rgba(200,200,200,0)"},{"offset":0.575,"color":"#c8c8c8"},{"offset":0.579,"color":"rgba(200,200,200,0)"},
{"offset":0.596,"color":"rgba(200,200,200,0)"},{"offset":0.6,"color":"#c8c8c8"},{"offset":0.604,"color":"rgba(200,200,200,0)"},
{"offset":0.621,"color":"rgba(200,200,200,0)"},{"offset":0.625,"color":"#c8c8c8"},{"offset":0.629,"color":"rgba(200,200,200,0)"},
{"offset":0.646,"color":"rgba(200,200,200,0)"},{"offset":0.65,"color":"#c8c8c8"},{"offset":0.654,"color":"rgba(200,200,200,0)"},
{"offset":0.671,"color":"rgba(200,200,200,0)"},{"offset":0.675,"color":"#c8c8c8"},{"offset":0.679,"color":"rgba(200,200,200,0)"},
{"offset":0.696,"color":"rgba(200,200,200,0)"},{"offset":0.7,"color":"#c8c8c8"},{"offset":0.704,"color":"rgba(200,200,200,0)"},
{"offset":0.721,"color":"rgba(200,200,200,0)"},{"offset":0.725,"color":"#c8c8c8"},{"offset":0.729,"color":"rgba(200,200,200,0)"},
{"offset":0.746,"color":"rgba(200,200,200,0)"},{"offset":0.75,"color":"#c8c8c8"},{"offset":0.754,"color":"rgba(200,200,200,0)"},
{"offset":0.771,"color":"rgba(200,200,200,0)"},{"offset":0.775,"color":"#c8c8c8"},{"offset":0.779,"color":"rgba(200,200,200,0)"},
{"offset":0.796,"color":"rgba(200,200,200,0)"},{"offset":0.8,"color":"#c8c8c8"},{"offset":0.804,"color":"rgba(200,200,200,0)"},
{"offset":0.821,"color":"rgba(200,200,200,0)"},{"offset":0.825,"color":"#c8c8c8"},{"offset":0.829,"color":"rgba(200,200,200,0)"},
{"offset":0.846,"color":"rgba(200,200,200,0)"},{"offset":0.85,"color":"#c8c8c8"},{"offset":0.854,"color":"rgba(200,200,200,0)"},
{"offset":0.871,"color":"rgba(200,200,200,0)"},{"offset":0.875,"color":"#c8c8c8"},{"offset":0.879,"color":"rgba(200,200,200,0)"},
{"offset":0.896,"color":"rgba(200,200,200,0)"},{"offset":0.9,"color":"#c8c8c8"},{"offset":0.904,"color":"rgba(200,200,200,0)"},
{"offset":0.921,"color":"rgba(200,200,200,0)"},{"offset":0.925,"color":"#c8c8c8"},{"offset":0.929,"color":"rgba(200,200,200,0)"},
{"offset":0.946,"color":"rgba(200,200,200,0)"},{"offset":0.95,"color":"#c8c8c8"},{"offset":0.954,"color":"rgba(200,200,200,0)"},
{"offset":0.971,"color":"rgba(200,200,200,0)"},{"offset":0.975,"color":"#c8c8c8"},{"offset":0.979,"color":"rgba(200,200,200,0)"},
{"offset":0.996,"color":"rgba(200,200,200,0)"},{"offset":1,"color":"#c8c8c8"}]}},
 "encoding": {"x": {"field": "s", "type": "quantitative", "title": null}, "x2": {"field": "e"}, "y": {"datum": 38, "type": "quantitative"}, "y2": {"datum": 24}}},
{"data": {"name": "trend"}, "mark": {"type": "rule", "color": "#ee1d23", "strokeWidth": 1.5, "opacity": 0.75},
 "encoding": {"x": {"field": "yr", "type": "quantitative", "title": null}, "y": {"field": "l1", "type": "quantitative", "title": "Годовой максимум, °C"}, "y2": {"field": "h1"}}},
{"data": {"name": "trend"}, "mark": {"type": "line", "color": "#ee1d23", "strokeWidth": 5},
 "encoding": {"x": {"field": "yr", "type": "quantitative", "title": null}, "y": {"field": "c1", "type": "quantitative", "title": "Годовой максимум, °C"}}},
{"data": {"name": "obs"}, "transform": [{"filter": "isValid(datum.tmax)"}], "mark": {"type": "line", "color": "#000", "strokeWidth": 2.5},
 "encoding": {"x": {"field": "yr", "type": "quantitative", "title": null}, "y": {"field": "tmax", "type": "quantitative", "title": "Годовой максимум, °C"}}},
{"data": {"name": "obs"}, "transform": [{"filter": "isValid(datum.tmax)"}], "mark": {"type": "point", "filled": true, "color": "#000", "size": 50, "opacity": 1},
 "encoding": {"x": {"field": "yr", "type": "quantitative", "title": null}, "y": {"field": "tmax", "type": "quantitative", "title": "Годовой максимум, °C"}}}
]
},
{
"width": 717, "height": 143,
"layer": [
{"data": {"name": "periods"}, "mark": {"type": "rect", "stroke": "#c4c4c4", "strokeWidth": 1.5,
 "fill": {"gradient": "linear", "x1": 0, "y1": 0, "x2": 1.1459, "y2": 0.7878, "stops": [
{"offset":0,"color":"#c8c8c8"},{"offset":0.005,"color":"rgba(200,200,200,0)"},
{"offset":0.03,"color":"rgba(200,200,200,0)"},{"offset":0.035,"color":"#c8c8c8"},{"offset":0.04,"color":"rgba(200,200,200,0)"},
{"offset":0.065,"color":"rgba(200,200,200,0)"},{"offset":0.07,"color":"#c8c8c8"},{"offset":0.075,"color":"rgba(200,200,200,0)"},
{"offset":0.1,"color":"rgba(200,200,200,0)"},{"offset":0.105,"color":"#c8c8c8"},{"offset":0.11,"color":"rgba(200,200,200,0)"},
{"offset":0.135,"color":"rgba(200,200,200,0)"},{"offset":0.14,"color":"#c8c8c8"},{"offset":0.145,"color":"rgba(200,200,200,0)"},
{"offset":0.17,"color":"rgba(200,200,200,0)"},{"offset":0.175,"color":"#c8c8c8"},{"offset":0.18,"color":"rgba(200,200,200,0)"},
{"offset":0.205,"color":"rgba(200,200,200,0)"},{"offset":0.21,"color":"#c8c8c8"},{"offset":0.215,"color":"rgba(200,200,200,0)"},
{"offset":0.24,"color":"rgba(200,200,200,0)"},{"offset":0.245,"color":"#c8c8c8"},{"offset":0.25,"color":"rgba(200,200,200,0)"},
{"offset":0.275,"color":"rgba(200,200,200,0)"},{"offset":0.28,"color":"#c8c8c8"},{"offset":0.285,"color":"rgba(200,200,200,0)"},
{"offset":0.31,"color":"rgba(200,200,200,0)"},{"offset":0.315,"color":"#c8c8c8"},{"offset":0.32,"color":"rgba(200,200,200,0)"},
{"offset":0.345,"color":"rgba(200,200,200,0)"},{"offset":0.35,"color":"#c8c8c8"},{"offset":0.355,"color":"rgba(200,200,200,0)"},
{"offset":0.38,"color":"rgba(200,200,200,0)"},{"offset":0.385,"color":"#c8c8c8"},{"offset":0.39,"color":"rgba(200,200,200,0)"},
{"offset":0.415,"color":"rgba(200,200,200,0)"},{"offset":0.42,"color":"#c8c8c8"},{"offset":0.425,"color":"rgba(200,200,200,0)"},
{"offset":0.45,"color":"rgba(200,200,200,0)"},{"offset":0.455,"color":"#c8c8c8"},{"offset":0.46,"color":"rgba(200,200,200,0)"},
{"offset":0.485,"color":"rgba(200,200,200,0)"},{"offset":0.49,"color":"#c8c8c8"},{"offset":0.495,"color":"rgba(200,200,200,0)"},
{"offset":0.52,"color":"rgba(200,200,200,0)"},{"offset":0.525,"color":"#c8c8c8"},{"offset":0.53,"color":"rgba(200,200,200,0)"},
{"offset":0.555,"color":"rgba(200,200,200,0)"},{"offset":0.56,"color":"#c8c8c8"},{"offset":0.565,"color":"rgba(200,200,200,0)"},
{"offset":0.59,"color":"rgba(200,200,200,0)"},{"offset":0.595,"color":"#c8c8c8"},{"offset":0.6,"color":"rgba(200,200,200,0)"},
{"offset":0.625,"color":"rgba(200,200,200,0)"},{"offset":0.63,"color":"#c8c8c8"},{"offset":0.635,"color":"rgba(200,200,200,0)"},
{"offset":0.66,"color":"rgba(200,200,200,0)"},{"offset":0.665,"color":"#c8c8c8"},{"offset":0.67,"color":"rgba(200,200,200,0)"},
{"offset":0.695,"color":"rgba(200,200,200,0)"},{"offset":0.7,"color":"#c8c8c8"},{"offset":0.705,"color":"rgba(200,200,200,0)"},
{"offset":0.73,"color":"rgba(200,200,200,0)"},{"offset":0.735,"color":"#c8c8c8"},{"offset":0.74,"color":"rgba(200,200,200,0)"},
{"offset":0.765,"color":"rgba(200,200,200,0)"},{"offset":0.77,"color":"#c8c8c8"},{"offset":0.775,"color":"rgba(200,200,200,0)"},
{"offset":0.8,"color":"rgba(200,200,200,0)"},{"offset":0.805,"color":"#c8c8c8"},{"offset":0.81,"color":"rgba(200,200,200,0)"},
{"offset":0.835,"color":"rgba(200,200,200,0)"},{"offset":0.84,"color":"#c8c8c8"},{"offset":0.845,"color":"rgba(200,200,200,0)"},
{"offset":0.87,"color":"rgba(200,200,200,0)"},{"offset":0.875,"color":"#c8c8c8"},{"offset":0.88,"color":"rgba(200,200,200,0)"},
{"offset":0.905,"color":"rgba(200,200,200,0)"},{"offset":0.91,"color":"#c8c8c8"},{"offset":0.915,"color":"rgba(200,200,200,0)"},
{"offset":0.94,"color":"rgba(200,200,200,0)"},{"offset":0.945,"color":"#c8c8c8"},{"offset":0.95,"color":"rgba(200,200,200,0)"},
{"offset":0.975,"color":"rgba(200,200,200,0)"},{"offset":0.98,"color":"#c8c8c8"},{"offset":0.985,"color":"rgba(200,200,200,0)"}]}},
 "encoding": {
  "x": {"field": "s", "type": "quantitative", "scale": {"domain": [1935, 2035], "nice": false, "zero": false}, "title": null,
        "axis": {"values": [1935,1940,1945,1950,1955,1960,1965,1970,1975,1980,1985,1990,1995,2000,2005,2010,2015,2020,2025,2030,2035], "grid": true, "ticks": false, "labels": false, "domain": false, "title": null}},
  "x2": {"field": "e"},
  "y": {"datum": 6, "type": "quantitative", "scale": {"domain": [-2, 6], "nice": false, "zero": false},
        "axis": {"orient": "left", "offset": 40, "values": [-2,-1,0,1,2,3,4,5,6],
          "tickSize": {"condition": {"test": "datum.value % 2 === 0", "value": -23}, "value": -11},
          "labelExpr": "datum.value % 2 === 0 ? '' + datum.value : ''", "labelPadding": 33,
          "grid": true, "gridOpacity": {"condition": {"test": "datum.value % 2 === 0", "value": 1}, "value": 0},
          "title": "Средняя за год, °C", "titlePadding": 15}},
  "y2": {"datum": -2}
 }},
{"data": {"name": "periods"}, "transform": [{"filter": "datum.kind === 'obs'"}], "mark": {"type": "rect", "strokeWidth": 0,
 "fill": {"gradient": "linear", "x1": 0, "y1": 1, "x2": 1.1459, "y2": 0.2122, "stops": [
{"offset":0,"color":"#c8c8c8"},{"offset":0.005,"color":"rgba(200,200,200,0)"},
{"offset":0.03,"color":"rgba(200,200,200,0)"},{"offset":0.035,"color":"#c8c8c8"},{"offset":0.04,"color":"rgba(200,200,200,0)"},
{"offset":0.065,"color":"rgba(200,200,200,0)"},{"offset":0.07,"color":"#c8c8c8"},{"offset":0.075,"color":"rgba(200,200,200,0)"},
{"offset":0.1,"color":"rgba(200,200,200,0)"},{"offset":0.105,"color":"#c8c8c8"},{"offset":0.11,"color":"rgba(200,200,200,0)"},
{"offset":0.135,"color":"rgba(200,200,200,0)"},{"offset":0.14,"color":"#c8c8c8"},{"offset":0.145,"color":"rgba(200,200,200,0)"},
{"offset":0.17,"color":"rgba(200,200,200,0)"},{"offset":0.175,"color":"#c8c8c8"},{"offset":0.18,"color":"rgba(200,200,200,0)"},
{"offset":0.205,"color":"rgba(200,200,200,0)"},{"offset":0.21,"color":"#c8c8c8"},{"offset":0.215,"color":"rgba(200,200,200,0)"},
{"offset":0.24,"color":"rgba(200,200,200,0)"},{"offset":0.245,"color":"#c8c8c8"},{"offset":0.25,"color":"rgba(200,200,200,0)"},
{"offset":0.275,"color":"rgba(200,200,200,0)"},{"offset":0.28,"color":"#c8c8c8"},{"offset":0.285,"color":"rgba(200,200,200,0)"},
{"offset":0.31,"color":"rgba(200,200,200,0)"},{"offset":0.315,"color":"#c8c8c8"},{"offset":0.32,"color":"rgba(200,200,200,0)"},
{"offset":0.345,"color":"rgba(200,200,200,0)"},{"offset":0.35,"color":"#c8c8c8"},{"offset":0.355,"color":"rgba(200,200,200,0)"},
{"offset":0.38,"color":"rgba(200,200,200,0)"},{"offset":0.385,"color":"#c8c8c8"},{"offset":0.39,"color":"rgba(200,200,200,0)"},
{"offset":0.415,"color":"rgba(200,200,200,0)"},{"offset":0.42,"color":"#c8c8c8"},{"offset":0.425,"color":"rgba(200,200,200,0)"},
{"offset":0.45,"color":"rgba(200,200,200,0)"},{"offset":0.455,"color":"#c8c8c8"},{"offset":0.46,"color":"rgba(200,200,200,0)"},
{"offset":0.485,"color":"rgba(200,200,200,0)"},{"offset":0.49,"color":"#c8c8c8"},{"offset":0.495,"color":"rgba(200,200,200,0)"},
{"offset":0.52,"color":"rgba(200,200,200,0)"},{"offset":0.525,"color":"#c8c8c8"},{"offset":0.53,"color":"rgba(200,200,200,0)"},
{"offset":0.555,"color":"rgba(200,200,200,0)"},{"offset":0.56,"color":"#c8c8c8"},{"offset":0.565,"color":"rgba(200,200,200,0)"},
{"offset":0.59,"color":"rgba(200,200,200,0)"},{"offset":0.595,"color":"#c8c8c8"},{"offset":0.6,"color":"rgba(200,200,200,0)"},
{"offset":0.625,"color":"rgba(200,200,200,0)"},{"offset":0.63,"color":"#c8c8c8"},{"offset":0.635,"color":"rgba(200,200,200,0)"},
{"offset":0.66,"color":"rgba(200,200,200,0)"},{"offset":0.665,"color":"#c8c8c8"},{"offset":0.67,"color":"rgba(200,200,200,0)"},
{"offset":0.695,"color":"rgba(200,200,200,0)"},{"offset":0.7,"color":"#c8c8c8"},{"offset":0.705,"color":"rgba(200,200,200,0)"},
{"offset":0.73,"color":"rgba(200,200,200,0)"},{"offset":0.735,"color":"#c8c8c8"},{"offset":0.74,"color":"rgba(200,200,200,0)"},
{"offset":0.765,"color":"rgba(200,200,200,0)"},{"offset":0.77,"color":"#c8c8c8"},{"offset":0.775,"color":"rgba(200,200,200,0)"},
{"offset":0.8,"color":"rgba(200,200,200,0)"},{"offset":0.805,"color":"#c8c8c8"},{"offset":0.81,"color":"rgba(200,200,200,0)"},
{"offset":0.835,"color":"rgba(200,200,200,0)"},{"offset":0.84,"color":"#c8c8c8"},{"offset":0.845,"color":"rgba(200,200,200,0)"},
{"offset":0.87,"color":"rgba(200,200,200,0)"},{"offset":0.875,"color":"#c8c8c8"},{"offset":0.88,"color":"rgba(200,200,200,0)"},
{"offset":0.905,"color":"rgba(200,200,200,0)"},{"offset":0.91,"color":"#c8c8c8"},{"offset":0.915,"color":"rgba(200,200,200,0)"},
{"offset":0.94,"color":"rgba(200,200,200,0)"},{"offset":0.945,"color":"#c8c8c8"},{"offset":0.95,"color":"rgba(200,200,200,0)"},
{"offset":0.975,"color":"rgba(200,200,200,0)"},{"offset":0.98,"color":"#c8c8c8"},{"offset":0.985,"color":"rgba(200,200,200,0)"}]}},
 "encoding": {"x": {"field": "s", "type": "quantitative", "title": null}, "x2": {"field": "e"}, "y": {"datum": 6, "type": "quantitative"}, "y2": {"datum": -2}}},
{"data": {"name": "trend"}, "mark": {"type": "rule", "color": "#6cc25c", "strokeWidth": 1.5, "opacity": 0.8},
 "encoding": {"x": {"field": "yr", "type": "quantitative", "title": null}, "y": {"field": "l2", "type": "quantitative", "title": "Средняя за год, °C"}, "y2": {"field": "h2"}}},
{"data": {"name": "trend"}, "mark": {"type": "line", "color": "#66c157", "strokeWidth": 5},
 "encoding": {"x": {"field": "yr", "type": "quantitative", "title": null}, "y": {"field": "c2", "type": "quantitative", "title": "Средняя за год, °C"}}},
{"data": {"name": "obs"}, "transform": [{"filter": "isValid(datum.tmean)"}], "mark": {"type": "line", "color": "#000", "strokeWidth": 2.5},
 "encoding": {"x": {"field": "yr", "type": "quantitative", "title": null}, "y": {"field": "tmean", "type": "quantitative", "title": "Средняя за год, °C"}}},
{"data": {"name": "obs"}, "transform": [{"filter": "isValid(datum.tmean)"}], "mark": {"type": "point", "filled": true, "color": "#000", "size": 50, "opacity": 1},
 "encoding": {"x": {"field": "yr", "type": "quantitative", "title": null}, "y": {"field": "tmean", "type": "quantitative", "title": "Средняя за год, °C"}}}
]
}
]
},
{
"width": 717, "height": 395,
"layer": [
{"data": {"name": "periods"}, "mark": {"type": "rect", "stroke": "#c4c4c4", "strokeWidth": 1.5,
 "fill": {"gradient": "linear", "x1": 0, "y1": 0, "x2": 0.6294, "y2": 1.1952, "stops": [
{"offset":0,"color":"#c8c8c8"},{"offset":0.003,"color":"rgba(200,200,200,0)"},
{"offset":0.017,"color":"rgba(200,200,200,0)"},{"offset":0.02,"color":"#c8c8c8"},{"offset":0.023,"color":"rgba(200,200,200,0)"},
{"offset":0.037,"color":"rgba(200,200,200,0)"},{"offset":0.04,"color":"#c8c8c8"},{"offset":0.043,"color":"rgba(200,200,200,0)"},
{"offset":0.057,"color":"rgba(200,200,200,0)"},{"offset":0.06,"color":"#c8c8c8"},{"offset":0.063,"color":"rgba(200,200,200,0)"},
{"offset":0.077,"color":"rgba(200,200,200,0)"},{"offset":0.08,"color":"#c8c8c8"},{"offset":0.083,"color":"rgba(200,200,200,0)"},
{"offset":0.097,"color":"rgba(200,200,200,0)"},{"offset":0.1,"color":"#c8c8c8"},{"offset":0.103,"color":"rgba(200,200,200,0)"},
{"offset":0.117,"color":"rgba(200,200,200,0)"},{"offset":0.12,"color":"#c8c8c8"},{"offset":0.123,"color":"rgba(200,200,200,0)"},
{"offset":0.137,"color":"rgba(200,200,200,0)"},{"offset":0.14,"color":"#c8c8c8"},{"offset":0.143,"color":"rgba(200,200,200,0)"},
{"offset":0.157,"color":"rgba(200,200,200,0)"},{"offset":0.16,"color":"#c8c8c8"},{"offset":0.163,"color":"rgba(200,200,200,0)"},
{"offset":0.177,"color":"rgba(200,200,200,0)"},{"offset":0.18,"color":"#c8c8c8"},{"offset":0.183,"color":"rgba(200,200,200,0)"},
{"offset":0.197,"color":"rgba(200,200,200,0)"},{"offset":0.2,"color":"#c8c8c8"},{"offset":0.203,"color":"rgba(200,200,200,0)"},
{"offset":0.217,"color":"rgba(200,200,200,0)"},{"offset":0.22,"color":"#c8c8c8"},{"offset":0.223,"color":"rgba(200,200,200,0)"},
{"offset":0.237,"color":"rgba(200,200,200,0)"},{"offset":0.24,"color":"#c8c8c8"},{"offset":0.243,"color":"rgba(200,200,200,0)"},
{"offset":0.257,"color":"rgba(200,200,200,0)"},{"offset":0.26,"color":"#c8c8c8"},{"offset":0.263,"color":"rgba(200,200,200,0)"},
{"offset":0.277,"color":"rgba(200,200,200,0)"},{"offset":0.28,"color":"#c8c8c8"},{"offset":0.283,"color":"rgba(200,200,200,0)"},
{"offset":0.297,"color":"rgba(200,200,200,0)"},{"offset":0.3,"color":"#c8c8c8"},{"offset":0.303,"color":"rgba(200,200,200,0)"},
{"offset":0.317,"color":"rgba(200,200,200,0)"},{"offset":0.32,"color":"#c8c8c8"},{"offset":0.323,"color":"rgba(200,200,200,0)"},
{"offset":0.337,"color":"rgba(200,200,200,0)"},{"offset":0.34,"color":"#c8c8c8"},{"offset":0.343,"color":"rgba(200,200,200,0)"},
{"offset":0.357,"color":"rgba(200,200,200,0)"},{"offset":0.36,"color":"#c8c8c8"},{"offset":0.363,"color":"rgba(200,200,200,0)"},
{"offset":0.377,"color":"rgba(200,200,200,0)"},{"offset":0.38,"color":"#c8c8c8"},{"offset":0.383,"color":"rgba(200,200,200,0)"},
{"offset":0.397,"color":"rgba(200,200,200,0)"},{"offset":0.4,"color":"#c8c8c8"},{"offset":0.403,"color":"rgba(200,200,200,0)"},
{"offset":0.417,"color":"rgba(200,200,200,0)"},{"offset":0.42,"color":"#c8c8c8"},{"offset":0.423,"color":"rgba(200,200,200,0)"},
{"offset":0.437,"color":"rgba(200,200,200,0)"},{"offset":0.44,"color":"#c8c8c8"},{"offset":0.443,"color":"rgba(200,200,200,0)"},
{"offset":0.457,"color":"rgba(200,200,200,0)"},{"offset":0.46,"color":"#c8c8c8"},{"offset":0.463,"color":"rgba(200,200,200,0)"},
{"offset":0.477,"color":"rgba(200,200,200,0)"},{"offset":0.48,"color":"#c8c8c8"},{"offset":0.483,"color":"rgba(200,200,200,0)"},
{"offset":0.497,"color":"rgba(200,200,200,0)"},{"offset":0.5,"color":"#c8c8c8"},{"offset":0.503,"color":"rgba(200,200,200,0)"},
{"offset":0.517,"color":"rgba(200,200,200,0)"},{"offset":0.52,"color":"#c8c8c8"},{"offset":0.523,"color":"rgba(200,200,200,0)"},
{"offset":0.537,"color":"rgba(200,200,200,0)"},{"offset":0.54,"color":"#c8c8c8"},{"offset":0.543,"color":"rgba(200,200,200,0)"},
{"offset":0.557,"color":"rgba(200,200,200,0)"},{"offset":0.56,"color":"#c8c8c8"},{"offset":0.563,"color":"rgba(200,200,200,0)"},
{"offset":0.577,"color":"rgba(200,200,200,0)"},{"offset":0.58,"color":"#c8c8c8"},{"offset":0.583,"color":"rgba(200,200,200,0)"},
{"offset":0.597,"color":"rgba(200,200,200,0)"},{"offset":0.6,"color":"#c8c8c8"},{"offset":0.603,"color":"rgba(200,200,200,0)"},
{"offset":0.617,"color":"rgba(200,200,200,0)"},{"offset":0.62,"color":"#c8c8c8"},{"offset":0.623,"color":"rgba(200,200,200,0)"},
{"offset":0.637,"color":"rgba(200,200,200,0)"},{"offset":0.64,"color":"#c8c8c8"},{"offset":0.643,"color":"rgba(200,200,200,0)"},
{"offset":0.657,"color":"rgba(200,200,200,0)"},{"offset":0.66,"color":"#c8c8c8"},{"offset":0.663,"color":"rgba(200,200,200,0)"},
{"offset":0.677,"color":"rgba(200,200,200,0)"},{"offset":0.68,"color":"#c8c8c8"},{"offset":0.683,"color":"rgba(200,200,200,0)"},
{"offset":0.697,"color":"rgba(200,200,200,0)"},{"offset":0.7,"color":"#c8c8c8"},{"offset":0.703,"color":"rgba(200,200,200,0)"},
{"offset":0.717,"color":"rgba(200,200,200,0)"},{"offset":0.72,"color":"#c8c8c8"},{"offset":0.723,"color":"rgba(200,200,200,0)"},
{"offset":0.737,"color":"rgba(200,200,200,0)"},{"offset":0.74,"color":"#c8c8c8"},{"offset":0.743,"color":"rgba(200,200,200,0)"},
{"offset":0.757,"color":"rgba(200,200,200,0)"},{"offset":0.76,"color":"#c8c8c8"},{"offset":0.763,"color":"rgba(200,200,200,0)"},
{"offset":0.777,"color":"rgba(200,200,200,0)"},{"offset":0.78,"color":"#c8c8c8"},{"offset":0.783,"color":"rgba(200,200,200,0)"},
{"offset":0.797,"color":"rgba(200,200,200,0)"},{"offset":0.8,"color":"#c8c8c8"},{"offset":0.803,"color":"rgba(200,200,200,0)"},
{"offset":0.817,"color":"rgba(200,200,200,0)"},{"offset":0.82,"color":"#c8c8c8"},{"offset":0.823,"color":"rgba(200,200,200,0)"},
{"offset":0.837,"color":"rgba(200,200,200,0)"},{"offset":0.84,"color":"#c8c8c8"},{"offset":0.843,"color":"rgba(200,200,200,0)"},
{"offset":0.857,"color":"rgba(200,200,200,0)"},{"offset":0.86,"color":"#c8c8c8"},{"offset":0.863,"color":"rgba(200,200,200,0)"},
{"offset":0.877,"color":"rgba(200,200,200,0)"},{"offset":0.88,"color":"#c8c8c8"},{"offset":0.883,"color":"rgba(200,200,200,0)"},
{"offset":0.897,"color":"rgba(200,200,200,0)"},{"offset":0.9,"color":"#c8c8c8"},{"offset":0.903,"color":"rgba(200,200,200,0)"},
{"offset":0.917,"color":"rgba(200,200,200,0)"},{"offset":0.92,"color":"#c8c8c8"},{"offset":0.923,"color":"rgba(200,200,200,0)"},
{"offset":0.937,"color":"rgba(200,200,200,0)"},{"offset":0.94,"color":"#c8c8c8"},{"offset":0.943,"color":"rgba(200,200,200,0)"},
{"offset":0.957,"color":"rgba(200,200,200,0)"},{"offset":0.96,"color":"#c8c8c8"},{"offset":0.963,"color":"rgba(200,200,200,0)"},
{"offset":0.977,"color":"rgba(200,200,200,0)"},{"offset":0.98,"color":"#c8c8c8"},{"offset":0.983,"color":"rgba(200,200,200,0)"},
{"offset":0.997,"color":"rgba(200,200,200,0)"},{"offset":1,"color":"#c8c8c8"}]}},
 "encoding": {
  "x": {"field": "s", "type": "quantitative", "scale": {"domain": [1935, 2035], "nice": false, "zero": false}, "title": null,
        "axis": {"orient": "bottom", "offset": 36, "values": [1935,1936,1937,1938,1939,1940,1941,1942,1943,1944,1945,1946,1947,1948,1949,1950,1951,1952,1953,1954,1955,1956,1957,1958,1959,1960,1961,1962,1963,1964,1965,1966,1967,1968,1969,1970,1971,1972,1973,1974,1975,1976,1977,1978,1979,1980,1981,1982,1983,1984,1985,1986,1987,1988,1989,1990,1991,1992,1993,1994,1995,1996,1997,1998,1999,2000,2001,2002,2003,2004,2005,2006,2007,2008,2009,2010,2011,2012,2013,2014,2015,2016,2017,2018,2019,2020,2021,2022,2023,2024,2025,2026,2027,2028,2029,2030,2031,2032,2033,2034,2035],
          "tickSize": {"condition": {"test": "datum.value % 5 === 0", "value": -24}, "value": -12},
          "labelExpr": "(datum.value - 1935) % 10 === 0 ? '' + datum.value : ''", "labelPadding": 36,
          "grid": true, "gridOpacity": {"condition": {"test": "datum.value % 5 === 0", "value": 1}, "value": 0},
          "title": null}},
  "x2": {"field": "e"},
  "y": {"datum": -20, "type": "quantitative", "scale": {"domain": [-42, -20], "nice": false, "zero": false},
        "axis": {"orient": "left", "offset": 40, "values": [-42,-41,-40,-39,-38,-37,-36,-35,-34,-33,-32,-31,-30,-29,-28,-27,-26,-25,-24,-23,-22,-21,-20],
          "tickSize": {"condition": {"test": "datum.value % 2 === 0", "value": -23}, "value": -11},
          "labelExpr": "datum.value % 2 === 0 ? '' + datum.value : ''", "labelPadding": 33,
          "grid": true, "gridOpacity": {"condition": {"test": "datum.value % 2 === 0", "value": 1}, "value": 0},
          "title": "Годовой минимум, °C", "titlePadding": 6}},
  "y2": {"datum": -42}
 }},
{"data": {"name": "periods"}, "transform": [{"filter": "datum.kind === 'obs'"}], "mark": {"type": "rect", "strokeWidth": 0,
 "fill": {"gradient": "linear", "x1": 0, "y1": 1, "x2": 0.6294, "y2": -0.1952, "stops": [
{"offset":0,"color":"#c8c8c8"},{"offset":0.003,"color":"rgba(200,200,200,0)"},
{"offset":0.017,"color":"rgba(200,200,200,0)"},{"offset":0.02,"color":"#c8c8c8"},{"offset":0.023,"color":"rgba(200,200,200,0)"},
{"offset":0.037,"color":"rgba(200,200,200,0)"},{"offset":0.04,"color":"#c8c8c8"},{"offset":0.043,"color":"rgba(200,200,200,0)"},
{"offset":0.057,"color":"rgba(200,200,200,0)"},{"offset":0.06,"color":"#c8c8c8"},{"offset":0.063,"color":"rgba(200,200,200,0)"},
{"offset":0.077,"color":"rgba(200,200,200,0)"},{"offset":0.08,"color":"#c8c8c8"},{"offset":0.083,"color":"rgba(200,200,200,0)"},
{"offset":0.097,"color":"rgba(200,200,200,0)"},{"offset":0.1,"color":"#c8c8c8"},{"offset":0.103,"color":"rgba(200,200,200,0)"},
{"offset":0.117,"color":"rgba(200,200,200,0)"},{"offset":0.12,"color":"#c8c8c8"},{"offset":0.123,"color":"rgba(200,200,200,0)"},
{"offset":0.137,"color":"rgba(200,200,200,0)"},{"offset":0.14,"color":"#c8c8c8"},{"offset":0.143,"color":"rgba(200,200,200,0)"},
{"offset":0.157,"color":"rgba(200,200,200,0)"},{"offset":0.16,"color":"#c8c8c8"},{"offset":0.163,"color":"rgba(200,200,200,0)"},
{"offset":0.177,"color":"rgba(200,200,200,0)"},{"offset":0.18,"color":"#c8c8c8"},{"offset":0.183,"color":"rgba(200,200,200,0)"},
{"offset":0.197,"color":"rgba(200,200,200,0)"},{"offset":0.2,"color":"#c8c8c8"},{"offset":0.203,"color":"rgba(200,200,200,0)"},
{"offset":0.217,"color":"rgba(200,200,200,0)"},{"offset":0.22,"color":"#c8c8c8"},{"offset":0.223,"color":"rgba(200,200,200,0)"},
{"offset":0.237,"color":"rgba(200,200,200,0)"},{"offset":0.24,"color":"#c8c8c8"},{"offset":0.243,"color":"rgba(200,200,200,0)"},
{"offset":0.257,"color":"rgba(200,200,200,0)"},{"offset":0.26,"color":"#c8c8c8"},{"offset":0.263,"color":"rgba(200,200,200,0)"},
{"offset":0.277,"color":"rgba(200,200,200,0)"},{"offset":0.28,"color":"#c8c8c8"},{"offset":0.283,"color":"rgba(200,200,200,0)"},
{"offset":0.297,"color":"rgba(200,200,200,0)"},{"offset":0.3,"color":"#c8c8c8"},{"offset":0.303,"color":"rgba(200,200,200,0)"},
{"offset":0.317,"color":"rgba(200,200,200,0)"},{"offset":0.32,"color":"#c8c8c8"},{"offset":0.323,"color":"rgba(200,200,200,0)"},
{"offset":0.337,"color":"rgba(200,200,200,0)"},{"offset":0.34,"color":"#c8c8c8"},{"offset":0.343,"color":"rgba(200,200,200,0)"},
{"offset":0.357,"color":"rgba(200,200,200,0)"},{"offset":0.36,"color":"#c8c8c8"},{"offset":0.363,"color":"rgba(200,200,200,0)"},
{"offset":0.377,"color":"rgba(200,200,200,0)"},{"offset":0.38,"color":"#c8c8c8"},{"offset":0.383,"color":"rgba(200,200,200,0)"},
{"offset":0.397,"color":"rgba(200,200,200,0)"},{"offset":0.4,"color":"#c8c8c8"},{"offset":0.403,"color":"rgba(200,200,200,0)"},
{"offset":0.417,"color":"rgba(200,200,200,0)"},{"offset":0.42,"color":"#c8c8c8"},{"offset":0.423,"color":"rgba(200,200,200,0)"},
{"offset":0.437,"color":"rgba(200,200,200,0)"},{"offset":0.44,"color":"#c8c8c8"},{"offset":0.443,"color":"rgba(200,200,200,0)"},
{"offset":0.457,"color":"rgba(200,200,200,0)"},{"offset":0.46,"color":"#c8c8c8"},{"offset":0.463,"color":"rgba(200,200,200,0)"},
{"offset":0.477,"color":"rgba(200,200,200,0)"},{"offset":0.48,"color":"#c8c8c8"},{"offset":0.483,"color":"rgba(200,200,200,0)"},
{"offset":0.497,"color":"rgba(200,200,200,0)"},{"offset":0.5,"color":"#c8c8c8"},{"offset":0.503,"color":"rgba(200,200,200,0)"},
{"offset":0.517,"color":"rgba(200,200,200,0)"},{"offset":0.52,"color":"#c8c8c8"},{"offset":0.523,"color":"rgba(200,200,200,0)"},
{"offset":0.537,"color":"rgba(200,200,200,0)"},{"offset":0.54,"color":"#c8c8c8"},{"offset":0.543,"color":"rgba(200,200,200,0)"},
{"offset":0.557,"color":"rgba(200,200,200,0)"},{"offset":0.56,"color":"#c8c8c8"},{"offset":0.563,"color":"rgba(200,200,200,0)"},
{"offset":0.577,"color":"rgba(200,200,200,0)"},{"offset":0.58,"color":"#c8c8c8"},{"offset":0.583,"color":"rgba(200,200,200,0)"},
{"offset":0.597,"color":"rgba(200,200,200,0)"},{"offset":0.6,"color":"#c8c8c8"},{"offset":0.603,"color":"rgba(200,200,200,0)"},
{"offset":0.617,"color":"rgba(200,200,200,0)"},{"offset":0.62,"color":"#c8c8c8"},{"offset":0.623,"color":"rgba(200,200,200,0)"},
{"offset":0.637,"color":"rgba(200,200,200,0)"},{"offset":0.64,"color":"#c8c8c8"},{"offset":0.643,"color":"rgba(200,200,200,0)"},
{"offset":0.657,"color":"rgba(200,200,200,0)"},{"offset":0.66,"color":"#c8c8c8"},{"offset":0.663,"color":"rgba(200,200,200,0)"},
{"offset":0.677,"color":"rgba(200,200,200,0)"},{"offset":0.68,"color":"#c8c8c8"},{"offset":0.683,"color":"rgba(200,200,200,0)"},
{"offset":0.697,"color":"rgba(200,200,200,0)"},{"offset":0.7,"color":"#c8c8c8"},{"offset":0.703,"color":"rgba(200,200,200,0)"},
{"offset":0.717,"color":"rgba(200,200,200,0)"},{"offset":0.72,"color":"#c8c8c8"},{"offset":0.723,"color":"rgba(200,200,200,0)"},
{"offset":0.737,"color":"rgba(200,200,200,0)"},{"offset":0.74,"color":"#c8c8c8"},{"offset":0.743,"color":"rgba(200,200,200,0)"},
{"offset":0.757,"color":"rgba(200,200,200,0)"},{"offset":0.76,"color":"#c8c8c8"},{"offset":0.763,"color":"rgba(200,200,200,0)"},
{"offset":0.777,"color":"rgba(200,200,200,0)"},{"offset":0.78,"color":"#c8c8c8"},{"offset":0.783,"color":"rgba(200,200,200,0)"},
{"offset":0.797,"color":"rgba(200,200,200,0)"},{"offset":0.8,"color":"#c8c8c8"},{"offset":0.803,"color":"rgba(200,200,200,0)"},
{"offset":0.817,"color":"rgba(200,200,200,0)"},{"offset":0.82,"color":"#c8c8c8"},{"offset":0.823,"color":"rgba(200,200,200,0)"},
{"offset":0.837,"color":"rgba(200,200,200,0)"},{"offset":0.84,"color":"#c8c8c8"},{"offset":0.843,"color":"rgba(200,200,200,0)"},
{"offset":0.857,"color":"rgba(200,200,200,0)"},{"offset":0.86,"color":"#c8c8c8"},{"offset":0.863,"color":"rgba(200,200,200,0)"},
{"offset":0.877,"color":"rgba(200,200,200,0)"},{"offset":0.88,"color":"#c8c8c8"},{"offset":0.883,"color":"rgba(200,200,200,0)"},
{"offset":0.897,"color":"rgba(200,200,200,0)"},{"offset":0.9,"color":"#c8c8c8"},{"offset":0.903,"color":"rgba(200,200,200,0)"},
{"offset":0.917,"color":"rgba(200,200,200,0)"},{"offset":0.92,"color":"#c8c8c8"},{"offset":0.923,"color":"rgba(200,200,200,0)"},
{"offset":0.937,"color":"rgba(200,200,200,0)"},{"offset":0.94,"color":"#c8c8c8"},{"offset":0.943,"color":"rgba(200,200,200,0)"},
{"offset":0.957,"color":"rgba(200,200,200,0)"},{"offset":0.96,"color":"#c8c8c8"},{"offset":0.963,"color":"rgba(200,200,200,0)"},
{"offset":0.977,"color":"rgba(200,200,200,0)"},{"offset":0.98,"color":"#c8c8c8"},{"offset":0.983,"color":"rgba(200,200,200,0)"},
{"offset":0.997,"color":"rgba(200,200,200,0)"},{"offset":1,"color":"#c8c8c8"}]}},
 "encoding": {"x": {"field": "s", "type": "quantitative", "title": null}, "x2": {"field": "e"}, "y": {"datum": -20, "type": "quantitative"}, "y2": {"datum": -42}}},
{"data": {"name": "trend"}, "mark": {"type": "rule", "color": "#2b3990", "strokeWidth": 1.5, "opacity": 0.85},
 "encoding": {"x": {"field": "yr", "type": "quantitative", "title": null}, "y": {"field": "l3", "type": "quantitative", "title": "Годовой минимум, °C"}, "y2": {"field": "h3"}}},
{"data": {"name": "trend"}, "mark": {"type": "line", "color": "#2b3990", "strokeWidth": 5},
 "encoding": {"x": {"field": "yr", "type": "quantitative", "title": null}, "y": {"field": "c3", "type": "quantitative", "title": "Годовой минимум, °C"}}},
{"data": {"name": "obs"}, "mark": {"type": "line", "color": "#000", "strokeWidth": 2.5, "invalid": "break-paths-filter-domains"},
 "encoding": {"x": {"field": "yr", "type": "quantitative", "title": null}, "y": {"field": "tmin", "type": "quantitative", "title": "Годовой минимум, °C"}}},
{"data": {"name": "obs"}, "transform": [{"filter": "isValid(datum.tmin)"}], "mark": {"type": "point", "filled": true, "color": "#000", "size": 50, "opacity": 1},
 "encoding": {"x": {"field": "yr", "type": "quantitative", "title": null}, "y": {"field": "tmin", "type": "quantitative", "title": "Годовой минимум, °C"}}}
]
}
]
}
